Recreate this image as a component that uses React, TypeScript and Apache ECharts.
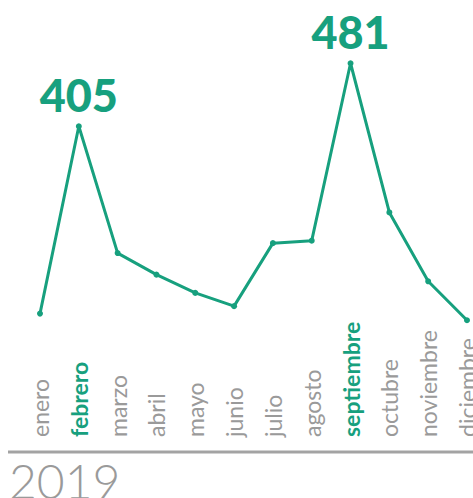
import React, { useEffect, useRef } from "react";
import * as echarts from "echarts";

const months = ["enero", "febrero", "marzo", "abril", "mayo", "junio", "julio", "agosto", "septiembre", "octubre", "noviembre", "diciembre"];
const values = [179, 405, 252, 226, 204, 188, 264, 267, 481, 301, 218, 171];
const highlighted = ["febrero", "septiembre"];
const yearLabel = "2019";

const GREEN = "#17a07e";
const GRAY = "#9a9a9a";

export default function App() {
  const ref = useRef<HTMLDivElement>(null);
  useEffect(() => {
    if (!ref.current) return;
    const chart = echarts.init(ref.current, null, { renderer: "svg" });
    const labelBase = {
      rotate: 90,
      margin: -25,
      align: "left",
      verticalAlign: "middle",
      fontSize: 23,
      fontFamily: "Lato",
    };
    chart.setOption({
      animation: false,
      grid: { left: 40, right: 6, top: 47.5, bottom: 36, containLabel: false, outerBoundsMode: "none" },
      xAxis: {
        type: "category",
        boundaryGap: false,
        data: months.map((m) =>
          highlighted.includes(m)
            ? { value: m, textStyle: { ...labelBase, color: GREEN, fontWeight: "bold" } }
            : m
        ),
        axisLine: { show: false },
        axisTick: { show: false },
        splitLine: { show: false },
        axisLabel: {
          ...labelBase,
          color: GRAY,
          interval: 0,
        },
      },
      yAxis: { type: "value", min: 0, max: 500, show: false, splitLine: { show: false } },
      series: [
        {
          type: "line",
          data: values.map((v, i) =>
            highlighted.includes(months[i])
              ? {
                  value: v,
                  label: {
                    show: true,
                    position: "top",
                    distance: 6,
                    fontSize: 45,
                    fontWeight: 900,
                    fontFamily: "Lato",
                    color: GREEN,
                  },
                }
              : v
          ),
          symbol: "circle",
          symbolSize: 6,
          lineStyle: { color: GREEN, width: 3 },
          itemStyle: { color: GREEN },
        },
      ],
      graphic: [
        {
          type: "line",
          shape: { x1: 8, y1: 452, x2: 473, y2: 452 },
          style: { stroke: "#a3a3a3", lineWidth: 3 },
        },
        {
          type: "text",
          left: 9,
          top: 456,
          style: {
            text: yearLabel,
            fontSize: 48,
            fontFamily: "Lato",
            fontWeight: 300,
            fill: GRAY,
          },
        },
      ],
    });
    return () => chart.dispose();
  }, []);
  return (
    <div
      ref={ref}
      style={{ position: "absolute", left: 0, top: 0, width: 473, height: 498 }}
    />
  );
}
